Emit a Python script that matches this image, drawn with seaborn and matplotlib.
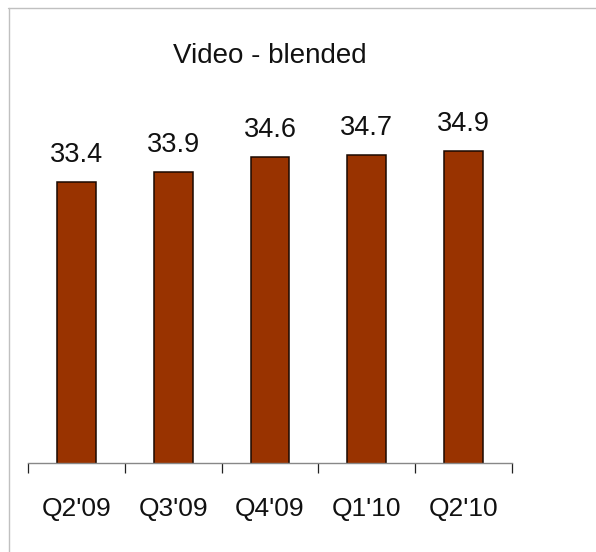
import matplotlib
matplotlib.use("Agg")
import matplotlib.pyplot as plt
from matplotlib.lines import Line2D
import seaborn as sns
import pandas as pd

quarters = ["Q2'09", "Q3'09", "Q4'09", "Q1'10", "Q2'10"]
values = [33.4, 33.9, 34.6, 34.7, 34.9]
title = "Video - blended"

sns.set_theme(style="white")
plt.rcParams["font.family"] = ["Liberation Sans", "DejaVu Sans"]

df = pd.DataFrame({"quarter": quarters, "value": values})

fig = plt.figure(figsize=(5.96, 5.52), dpi=100)
ax = fig.add_axes([0.0475, 0.1618, 0.811, 0.66])

sns.barplot(data=df, x="quarter", y="value", color="#993300", saturation=1,
            width=0.4, edgecolor="#1a0800", linewidth=1.1, ax=ax)

ax.set_ylim(20, 37.4)
ax.set_xlim(-0.5, len(quarters) - 0.5)
ax.set_xlabel("")
ax.set_ylabel("")
ax.set_yticks([])

for side in ("top", "right", "left"):
    ax.spines[side].set_visible(False)
ax.spines["bottom"].set_color("#888888")
ax.spines["bottom"].set_linewidth(1.0)

# tick marks sit between categories, labels stay centred
ax.set_xticks([i - 0.5 for i in range(len(quarters) + 1)], minor=True)
ax.tick_params(axis="x", which="minor", bottom=True, length=7.2, width=0.9,
               color="#222222", direction="out")
ax.tick_params(axis="x", which="major", bottom=False, length=0, pad=25,
               labelsize=19, labelcolor="#111111")

for cont in ax.containers:
    ax.bar_label(cont, fmt="%.1f", padding=10, fontsize=19.5, color="#111111")

fig.text(0.452, 0.898, title, ha="center", va="center",
         fontsize=20, color="#111111")

# light frame along the top and left edges
fig.add_artist(Line2D([8 / 596, 1.0], [1 - 8 / 552, 1 - 8 / 552],
                      transform=fig.transFigure, color="#c0c0c0", linewidth=1.0))
fig.add_artist(Line2D([9 / 596, 9 / 596], [1 - 8 / 552, 0.0],
                      transform=fig.transFigure, color="#c0c0c0", linewidth=1.0))

fig.savefig("out.png", dpi=100)
